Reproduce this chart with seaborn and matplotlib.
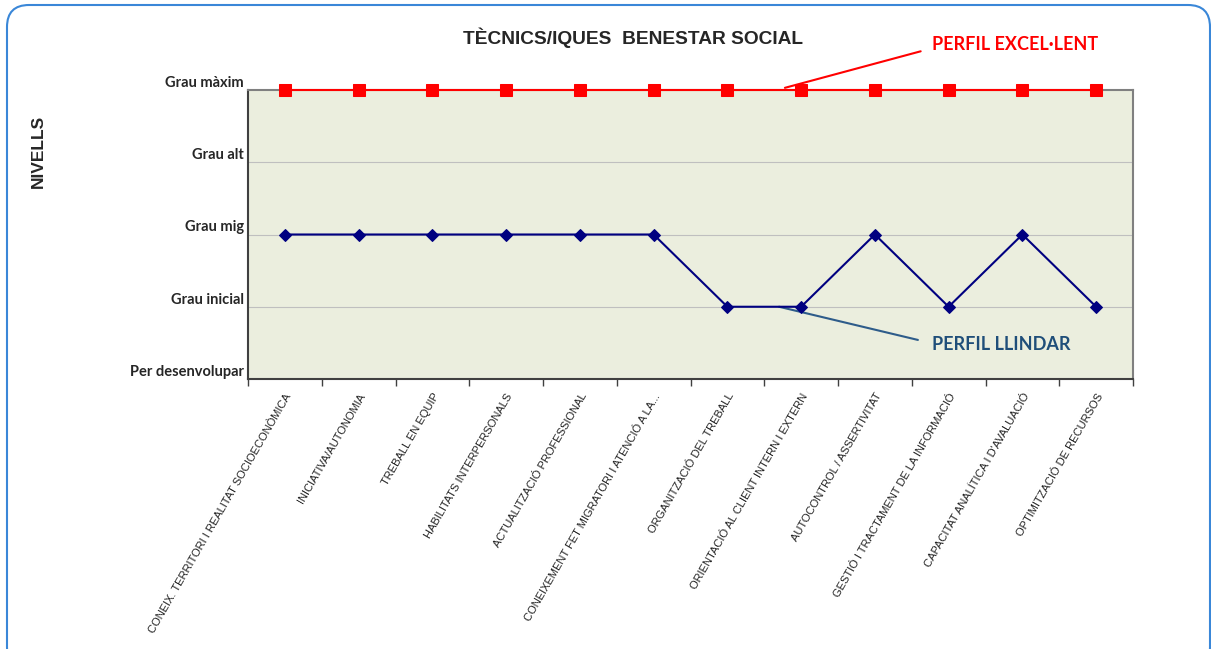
import pandas as pd
import matplotlib
matplotlib.use('Agg')
import matplotlib.pyplot as plt
from matplotlib.patches import FancyBboxPatch
from matplotlib.ticker import FixedLocator
import seaborn as sns


# ── Data ──────────────────────────────────────────────────────
competencies = [
    'CONEIX. TERRITORI I REALITAT SOCIOECONÒMICA',
    'INICIATIVA/AUTONOMIA',
    'TREBALL EN EQUIP',
    'HABILITATS INTERPERSONALS',
    'ACTUALITZACIÓ PROFESSIONAL',
    'CONEIXEMENT FET MIGRATORI I ATENCIÓ A LA...',
    'ORGANITZACIÓ DEL TREBALL',
    'ORIENTACIÓ AL CLIENT INTERN I EXTERN',
    'AUTOCONTROL / ASSERTIVITAT',
    'GESTIÓ I TRACTAMENT DE LA INFORMACIÓ',
    'CAPACITAT ANALÍTICA I D\'AVALUACIÓ',
    'OPTIMITZACIÓ DE RECURSOS',
]
level_labels = ['Per desenvolupar', 'Grau inicial', 'Grau mig', 'Grau alt', 'Grau màxim']
perfil_excelent = [4, 4, 4, 4, 4, 4, 4, 4, 4, 4, 4, 4]
perfil_llindar = [2, 2, 2, 2, 2, 2, 1, 1, 2, 1, 2, 1]

RED = '#FF0000'
NAVY = '#000080'
LLINDAR = '#1F4E79'
BG = '#EBEEDE'


def main():
    sns.set_style('white')
    plt.rcParams['font.family'] = ['Liberation Sans', 'DejaVu Sans']

    pos = list(range(len(competencies)))
    df = pd.DataFrame({
        'pos': pos * 2,
        'nivell': perfil_excelent + perfil_llindar,
        'perfil': ['excel'] * len(pos) + ['llindar'] * len(pos),
    })

    fig = plt.figure(figsize=(12.11, 6.49), dpi=100)
    ax = fig.add_axes([248 / 1211, 1 - 379 / 649, 885 / 1211, 289 / 649])
    ax.set_facecolor(BG)

    # gridlines
    for y in [1, 2, 3]:
        ax.axhline(y, color='#BFBFBF', lw=0.8, zorder=1)

    sns.lineplot(data=df[df.perfil == 'excel'], x='pos', y='nivell', ax=ax,
                 color=RED, lw=1.5, marker='s', markersize=8,
                 markeredgecolor=RED, zorder=4, clip_on=False)
    sns.lineplot(data=df[df.perfil == 'llindar'], x='pos', y='nivell', ax=ax,
                 color=NAVY, lw=1.5, marker='D', markersize=6.5,
                 markeredgecolor=NAVY, zorder=4, clip_on=False)

    ax.set_xlim(-0.5, len(pos) - 0.5)
    ax.set_ylim(0, 4)

    # x ticks: labels at categories, marks at boundaries
    ax.set_xticks(pos)
    ax.set_xticklabels(competencies, rotation=60, ha='right',
                       rotation_mode='anchor', fontsize=8, color='#222222')
    ax.tick_params(axis='x', which='major', length=0, pad=9)
    ax.xaxis.set_minor_locator(FixedLocator([i - 0.5 for i in range(len(pos) + 1)]))
    ax.tick_params(axis='x', which='minor', bottom=True, length=5,
                   width=1, color='#404040')

    ax.set_yticks(range(5))
    ax.set_yticklabels(level_labels, fontsize=10.5, fontweight='bold',
                       family=['Lato', 'DejaVu Sans'], va='bottom')
    ax.tick_params(axis='y', length=2, pad=1, color='#4F81BD')

    ax.set_xlabel('')
    ax.set_ylabel('')
    for side in ['left', 'bottom']:
        ax.spines[side].set_color('#404040')
        ax.spines[side].set_linewidth(1.5)
    for side in ['right', 'top']:
        ax.spines[side].set_color('#808080')
        ax.spines[side].set_linewidth(1.5)

    # titles
    fig.text(633 / 1211, 1 - 38 / 649, 'TÈCNICS/IQUES  BENESTAR SOCIAL',
             ha='center', va='center', fontsize=13.8, fontweight='bold')
    fig.text(38 / 1211, 1 - 151 / 649, 'NIVELLS', rotation=90,
             ha='center', va='center', fontsize=12.5, fontweight='bold')

    # callouts
    ax.annotate('PERFIL EXCEL·LENT', xy=(6.78, 4.03), xycoords='data',
                xytext=(932 / 1211, 1 - 44 / 649), textcoords='figure fraction',
                ha='left', va='center', fontsize=13, fontweight='bold',
                family=['Lato', 'DejaVu Sans'], color=RED,
                arrowprops=dict(arrowstyle='-', color=RED, lw=1.5, relpos=(0, 0.25),
                                shrinkA=6, shrinkB=0), annotation_clip=False)
    ax.annotate('PERFIL LLINDAR', xy=(6.7, 1.0), xycoords='data',
                xytext=(932 / 1211, 1 - 345 / 649), textcoords='figure fraction',
                ha='left', va='center', fontsize=13, fontweight='bold',
                family=['Lato', 'DejaVu Sans'], color=LLINDAR,
                arrowprops=dict(arrowstyle='-', color='#2E5C8A', lw=1.5, relpos=(0, 0.6),
                                shrinkA=8, shrinkB=0), annotation_clip=False)

    # rounded frame around the chart
    frame = FancyBboxPatch((7, -20), 1203, 664,
                           boxstyle='round,pad=0,rounding_size=22',
                           transform=None, fill=False, edgecolor='#3A87D8',
                           lw=1.5, zorder=0)
    fig.add_artist(frame)

    fig.savefig('out.png', dpi=100)
    plt.close(fig)


if __name__ == '__main__':
    main()
